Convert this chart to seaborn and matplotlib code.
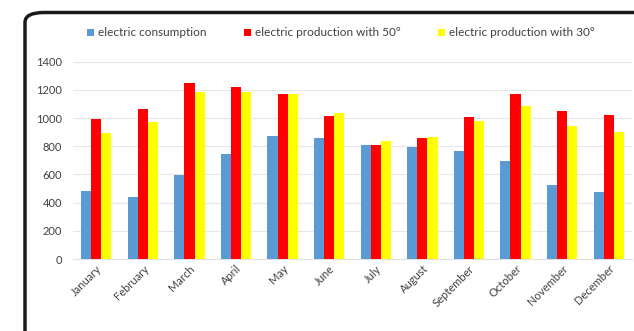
import seaborn as sns
import pandas as pd
import matplotlib.pyplot as plt
from matplotlib.patches import FancyBboxPatch

months = ['January', 'February', 'March', 'April', 'May', 'June', 'July',
          'August', 'September', 'October', 'November', 'December']
consumption = [485, 440, 595, 748, 875, 856, 808, 793, 767, 698, 523, 477]
prod_50 = [991, 1064, 1252, 1218, 1172, 1017, 806, 858, 1009, 1170, 1050, 1019]
prod_30 = [891, 972, 1182, 1186, 1172, 1035, 839, 864, 979, 1084, 944, 903]
series = ['electric consumption', 'electric production with 50°', 'electric production with 30°']
colors = ['#5B9BD5', '#FF0000', '#FFFF00']

df = pd.DataFrame({'month': months * 3,
                   'value': consumption + prod_50 + prod_30,
                   'series': [series[0]] * 12 + [series[1]] * 12 + [series[2]] * 12})

sns.set_style('white')
plt.rcParams['font.family'] = ['Lato', 'DejaVu Sans']

fig = plt.figure(figsize=(6.34, 3.31), dpi=100)
ax = fig.add_axes([73 / 634, (331 - 259) / 331, (632 - 73) / 634, (259 - 61.7) / 331])

sns.barplot(data=df, x='month', y='value', hue='series', palette=colors,
            width=0.65, saturation=1, linewidth=0, ax=ax, zorder=3)

ax.set_ylim(0, 1400)
ax.set_xlim(-0.5, 11.5)
ax.set_yticks(range(0, 1401, 200))
ax.yaxis.grid(True, color='#e6e6e6', linewidth=0.8, zorder=0)
ax.set_xlabel('')
ax.set_ylabel('')
for s in ['top', 'right', 'left']:
    ax.spines[s].set_visible(False)
ax.spines['bottom'].set_color('#e0e0e0')
ax.tick_params(axis='y', labelsize=8, colors='#404040', length=0, pad=8)
ax.tick_params(axis='x', labelsize=8, colors='#404040', length=0, pad=3)
plt.setp(ax.get_xticklabels(), rotation=45, ha='right', rotation_mode='anchor')

leg = ax.legend(loc='center', bbox_to_anchor=(341 / 634, 1 - 33 / 331),
                bbox_transform=fig.transFigure, ncol=3, frameon=False,
                fontsize=8.5, handlelength=0.6, handleheight=0.6,
                handletextpad=0.3, columnspacing=3.2, labelcolor='#404040')

# dark frame of the screenshot
frame = FancyBboxPatch((25 / 634, -0.5), 1.2, 1.5 - 12.5 / 331,
                       boxstyle='round,pad=0,rounding_size=0.03',
                       transform=fig.transFigure, facecolor='none',
                       edgecolor='#1a1a1a', linewidth=2.5, zorder=10)
fig.patches.append(frame)

fig.savefig('out.png', dpi=100)
